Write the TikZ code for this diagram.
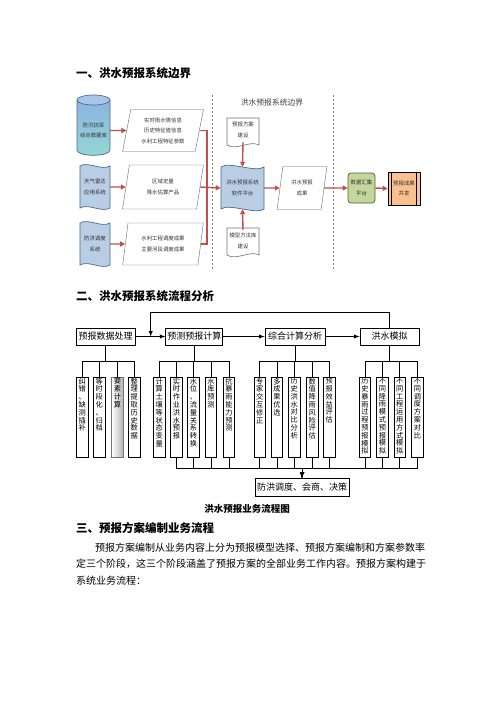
\documentclass[tikz,border=0pt]{standalone}
\usepackage{fontspec}
\setmainfont{Noto Sans CJK SC}
\usetikzlibrary{shapes.geometric,arrows.meta,positioning}

\definecolor{arrred}{HTML}{C0504D}
\definecolor{dbtop}{HTML}{8DB3E2}
\definecolor{dbbot}{HTML}{93D8D2}
\definecolor{dbline}{HTML}{4A6C93}
\definecolor{tapefill}{HTML}{B9CDE5}
\definecolor{hubfill}{HTML}{C3D69B}
\definecolor{hubline}{HTML}{4F6228}
\definecolor{sharefill}{HTML}{FAC08F}

% wavy tape and document outlines
\newcommand{\tapeshape}[6]{\draw[#1] (#2,#3) .. controls +(8,-#6) and +(-8,#6) .. (#4,#3) -- (#4,#5) .. controls +(-8,#6) and +(8,-#6) .. (#2,#5) -- cycle;}
\newcommand{\docshape}[5]{\draw[#1] (#2,#3) -- (#4,#3) -- (#4,#5) .. controls +(-9,-5) and +(9,6) .. (#2,#5) -- cycle;}
% vertical text column
\newcommand{\vcol}[1]{\parbox[c][78pt][t]{10pt}{\centering\fontsize{7.2}{7.8}\selectfont #1}}

\tikzset{
  head/.style={anchor=west,inner sep=0pt,font=\bfseries\fontsize{11.5}{12}\selectfont},
  tiny/.style={font=\fontsize{5.4}{10.5}\selectfont,align=center,text=black!80,inner sep=0pt},
  para/.style={trapezium,trapezium left angle=78,trapezium right angle=102,trapezium stretches=true,draw=black!60,fill=white,tiny},
  redarr/.style={draw=arrred,line width=1.4pt,-{Triangle[length=5pt,width=5pt]}},
  redline/.style={draw=arrred,line width=1.4pt},
  bound/.style={draw=black!50,line width=0.6pt,dash pattern=on 2pt off 2pt},
  topbox/.style={draw,line width=0.9pt,minimum height=17,inner sep=1pt,font=\fontsize{9}{9}\selectfont},
  colbox/.style={draw,line width=0.9pt,minimum width=11.5,minimum height=80,inner sep=0pt},
  link/.style={line width=0.9pt},
}

\begin{document}
\begin{tikzpicture}[x=1pt,y=-1pt,>=latex]
\useasboundingbox[fill=white] (0,0) rectangle (496,702);

\node[head] (h1) at (76,73) {一、洪水预报系统边界};

% system boundary
\draw[bound] (212,95) -- (212,270);
\draw[bound] (333,95) -- (333,270);
\node[font=\fontsize{7.8}{8}\selectfont,text=black!75] (bt) at (272,103) {洪水预报系统边界};

% sources
\draw[dbline,line width=0.7pt,top color=dbtop,bottom color=dbbot] (77,100) -- (77,150) .. controls (77,157) and (110,157) .. (110,150) -- (110,100);
\draw[dbline,line width=0.7pt,fill=dbtop!75!white] (93.5,100) ellipse [x radius=16.5,y radius=5];
\tapeshape{draw=dbline,line width=0.7pt,fill=tapefill}{80}{166}{110}{208}{5}
\tapeshape{draw=dbline,line width=0.7pt,fill=tapefill}{80}{223}{110}{265}{5}
\node[tiny,minimum width=33,minimum height=40] (db) at (93.5,130.5) {防汛抗旱\\综合数据库};
\node[tiny,minimum width=30,minimum height=34] (rad) at (95,187) {天气雷达\\应用系统};
\node[tiny,minimum width=30,minimum height=34] (dsp) at (95,244) {防洪调度\\系统};

\node[para,minimum width=81,minimum height=42] (p1) at (163,130.5) {实时雨水情信息\\历史特征值信息\\水利工程特征参数};
\node[para,minimum width=81,minimum height=44] (p2) at (163,187) {区域定量\\降水估算产品};
\node[para,minimum width=81,minimum height=42] (p3) at (163,244) {水利工程调度成果\\主要河段调度成果};

\draw[redarr] (db.east) -- (p1.west);
\draw[redarr] (rad.east) -- (p2.west);
\draw[redarr] (dsp.east) -- (p3.west);

% software platform
\tapeshape{draw=dbline,line width=0.7pt,fill=tapefill}{221}{167}{264}{209}{6}
\docshape{draw=black!55,line width=0.6pt,fill=white}{227}{118}{259}{145}
\docshape{draw=black!55,line width=0.6pt,fill=white}{227}{228}{259}{255}
\node[tiny,minimum width=43,minimum height=42] (plat) at (242.5,188) {洪水预报系统\\软件平台};
\node[tiny,minimum width=32,minimum height=24] (d1) at (243,130) {预报方案\\建设};
\node[tiny,minimum width=32,minimum height=22] (d2) at (243,241) {模型方法库\\建设};

\coordinate (jn) at (207,187);
\draw[redline] (p1.east) -| (jn) |- (p3.east);
\draw[redarr] (p2.east) -- (plat.west);
\draw[redarr] (d1.south) -- (plat.north);
\draw[redarr] (d2.north) -- (plat.south);

\node[para,minimum width=50,minimum height=43] (res) at (302,188) {洪水预报\\成果};
\node[tiny,draw=hubline,line width=0.7pt,fill=hubfill,rounded corners=3pt,minimum width=27,minimum height=30] (hub) at (361.5,188) {数据汇集\\平台};
\node[tiny,draw=black,line width=0.7pt,fill=sharefill,minimum width=32,minimum height=33] (share) at (404,188.5) {预报成果\\共享};
\draw[line width=0.7pt] ([xshift=4]share.north west) -- ([xshift=4]share.south west);
\draw[line width=0.7pt] ([xshift=-4]share.north east) -- ([xshift=-4]share.south east);

\draw[redarr] (plat.east) -- (res.west);
\draw[redarr] (res.east) -- (hub.west);
\draw[redarr] (hub.east) -- (share.west);

\node[head] (h2) at (76,296) {二、洪水预报系统流程分析};

% process flow
\node[topbox,minimum width=59] (b1) at (105.7,336.5) {预报数据处理};
\node[topbox,minimum width=57] (b2) at (194.3,336.5) {预测预报计算};
\node[topbox,minimum width=60] (b3) at (295,336.5) {综合计算分析};
\node[topbox,minimum width=59] (b4) at (389.5,336.5) {洪水模拟};

\node[colbox] (g11) at (82.3,417) {\vcol{纠\\错\\、\\缺\\测\\插\\补}};
\node[colbox] (g12) at (99.3,417) {\vcol{等\\时\\段\\化\\、\\归\\档}};
\node[colbox,draw=black!55,left color=white,right color=black!30] (g13) at (117.5,417) {\vcol{要\\素\\计\\算}};
\node[colbox] (g14) at (134.3,417) {\vcol{整\\理\\提\\取\\历\\史\\数\\据}};

\node[colbox] (g21) at (159.2,417) {\vcol{计\\算\\土\\壤\\等\\状\\态\\变\\量}};
\node[colbox] (g22) at (176.4,417) {\vcol{实\\时\\作\\业\\洪\\水\\预\\报}};
\node[colbox] (g23) at (193.5,417) {\vcol{水\\位\\、\\流\\量\\关\\系\\转\\换}};
\node[colbox] (g24) at (211,417) {\vcol{水\\库\\预\\测}};
\node[colbox] (g25) at (229,417) {\vcol{抗\\暴\\雨\\能\\力\\预\\测}};

\node[colbox] (g31) at (259.8,417) {\vcol{专\\家\\交\\互\\修\\正}};
\node[colbox] (g32) at (277,417) {\vcol{多\\成\\果\\优\\选}};
\node[colbox] (g33) at (294.2,417) {\vcol{历\\史\\洪\\水\\对\\比\\分\\析}};
\node[colbox] (g34) at (312.3,417) {\vcol{数\\值\\降\\雨\\风\\险\\评\\估}};
\node[colbox] (g35) at (329.2,417) {\vcol{预\\报\\效\\益\\评\\估}};

\node[colbox] (g41) at (365,417) {\vcol{历\\史\\暴\\雨\\过\\程\\预\\报\\模\\拟}};
\node[colbox] (g42) at (382.5,417) {\vcol{不\\同\\降\\雨\\模\\式\\预\\报\\模\\拟}};
\node[colbox] (g43) at (399.8,417) {\vcol{不\\同\\工\\程\\运\\用\\方\\式\\模\\拟}};
\node[colbox] (g44) at (417.5,417) {\vcol{不\\同\\调\\度\\方\\案\\对\\比}};

\node[topbox,minimum width=94,minimum height=18.5] (fin) at (302,487.3) {防洪调度、会商、决策};

\draw[link,->] (b1) -- (b2);
\draw[link,->] (b2) -- (b3);
\draw[link,->] (b3) -- (b4);
\coordinate (fb) at (150.7,336.5);
\draw[link,->] (b4.north) -- ++(0,-15.5) -| (fb);

\foreach \c in {g11,g12,g13,g14} \draw[link] (b1.south) -- ++(0,15.7) -| (\c.north);
\foreach \c in {g21,g22,g23,g24,g25} \draw[link] (b2.south) -- ++(0,15.7) -| (\c.north);
\foreach \c in {g31,g32,g33,g34,g35} \draw[link] (b3.south) -- ++(0,15.7) -| (\c.north);
\foreach \c in {g41,g42,g43,g44} \draw[link] (b4.south) -- ++(0,15.7) -| (\c.north);
\foreach \c in {g22,g23,g24,g25,g31,g32,g33,g34,g35,g41,g42,g43,g44}
  \draw[link,->] (\c.south) -- ++(0,11) -| (fin.north);

\node[font=\bfseries\fontsize{9.5}{10}\selectfont] (cap) at (247,509) {洪水预报业务流程图};

\node[head] (h3) at (76,528) {三、预报方案编制业务流程};
\node[anchor=north west,align=left,inner sep=0pt,font=\fontsize{10}{16.5}\selectfont] (txt) at (76,542.5)
  {\hspace*{19pt}预报方案编制从业务内容上分为预报模型选择、预报方案编制和方案参数率\\
   定三个阶段，这三个阶段涵盖了预报方案的全部业务工作内容。预报方案构建于\\
   系统业务流程：};
\end{tikzpicture}
\end{document}
